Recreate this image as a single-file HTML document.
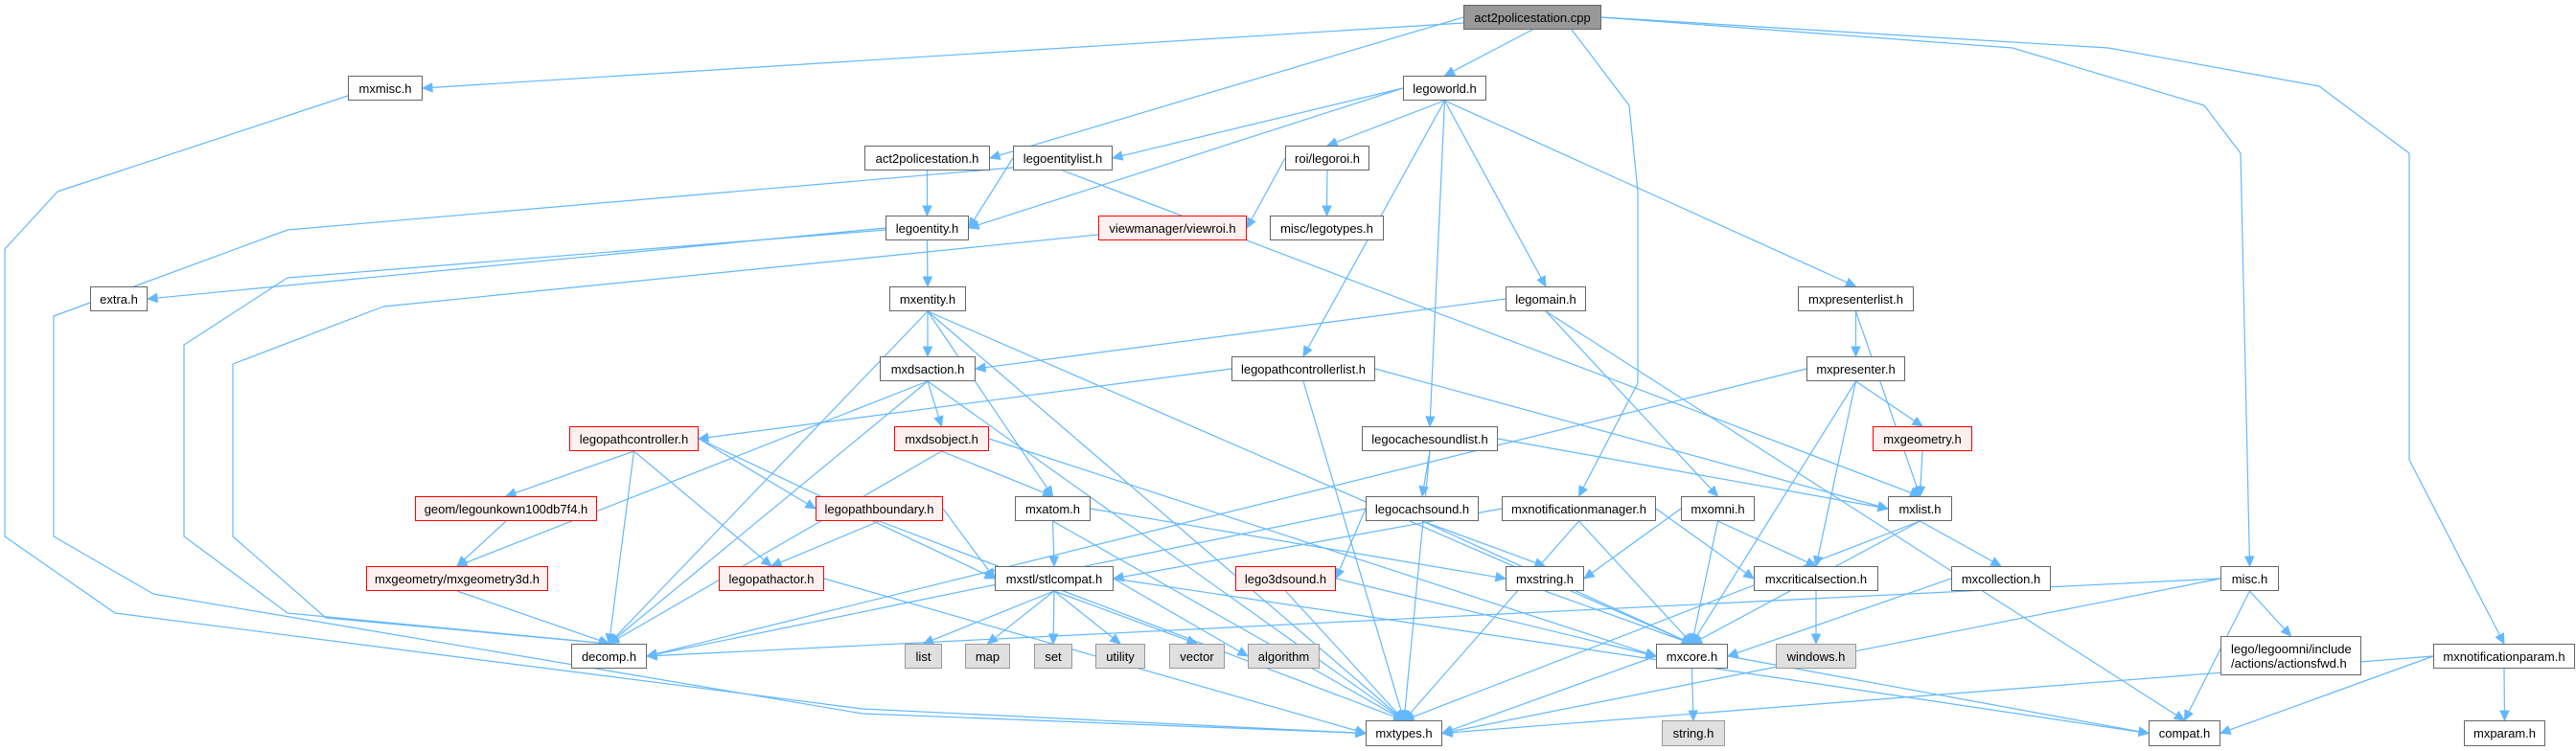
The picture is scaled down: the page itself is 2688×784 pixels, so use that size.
<!DOCTYPE html>
<html><head><meta charset="utf-8">
<style>
html,body{margin:0;padding:0;background:#fff;}
#wrap{position:relative;width:2688px;height:784px;overflow:hidden;}
svg{position:absolute;left:0;top:0;}
.n{position:absolute;box-sizing:border-box;border:1.5px solid #666;background:#fff;font-family:"Liberation Sans",sans-serif;font-size:13px;color:#000;display:flex;align-items:center;justify-content:center;text-align:center;white-space:nowrap;line-height:15px;}
.r{border-color:#f00;background:#fff0f0;}
.g{border-color:#999;background:#e0e0e0;}
.c{background:#999;border-color:#666;}
</style></head><body><div id="wrap">
<svg id="s" width="2688" height="784"></svg>
<div class="n c" style="left:1527px;top:5px;width:144px;height:26px">act2policestation.cpp</div>
<div class="n" style="left:363px;top:79px;width:78px;height:26px">mxmisc.h</div>
<div class="n" style="left:1464px;top:79px;width:87px;height:26px">legoworld.h</div>
<div class="n" style="left:902px;top:152px;width:131px;height:26px">act2policestation.h</div>
<div class="n" style="left:1057px;top:152px;width:104px;height:26px">legoentitylist.h</div>
<div class="n" style="left:1341px;top:152px;width:88px;height:26px">roi/legoroi.h</div>
<div class="n" style="left:924px;top:225px;width:87px;height:26px">legoentity.h</div>
<div class="n r" style="left:1146px;top:225px;width:155px;height:26px">viewmanager/viewroi.h</div>
<div class="n" style="left:1325px;top:225px;width:119px;height:26px">misc/legotypes.h</div>
<div class="n" style="left:94px;top:299px;width:60px;height:26px">extra.h</div>
<div class="n" style="left:928px;top:299px;width:80px;height:26px">mxentity.h</div>
<div class="n" style="left:1571px;top:299px;width:84px;height:26px">legomain.h</div>
<div class="n" style="left:1876px;top:299px;width:121px;height:26px">mxpresenterlist.h</div>
<div class="n" style="left:918px;top:372px;width:100px;height:26px">mxdsaction.h</div>
<div class="n" style="left:1285px;top:372px;width:150px;height:26px">legopathcontrollerlist.h</div>
<div class="n" style="left:1885px;top:372px;width:103px;height:26px">mxpresenter.h</div>
<div class="n r" style="left:594px;top:445px;width:135px;height:26px">legopathcontroller.h</div>
<div class="n r" style="left:933px;top:445px;width:99px;height:26px">mxdsobject.h</div>
<div class="n" style="left:1421px;top:445px;width:142px;height:26px">legocachesoundlist.h</div>
<div class="n r" style="left:1954px;top:445px;width:104px;height:26px">mxgeometry.h</div>
<div class="n r" style="left:433px;top:518px;width:190px;height:26px">geom/legounkown100db7f4.h</div>
<div class="n r" style="left:851px;top:518px;width:133px;height:26px">legopathboundary.h</div>
<div class="n" style="left:1059px;top:518px;width:79px;height:26px">mxatom.h</div>
<div class="n" style="left:1425px;top:518px;width:118px;height:26px">legocachsound.h</div>
<div class="n" style="left:1567px;top:518px;width:161px;height:26px">mxnotificationmanager.h</div>
<div class="n" style="left:1754px;top:518px;width:77px;height:26px">mxomni.h</div>
<div class="n" style="left:1970px;top:518px;width:67px;height:26px">mxlist.h</div>
<div class="n r" style="left:382px;top:591px;width:190px;height:26px">mxgeometry/mxgeometry3d.h</div>
<div class="n r" style="left:750px;top:591px;width:110px;height:26px">legopathactor.h</div>
<div class="n" style="left:1038px;top:591px;width:124px;height:26px">mxstl/stlcompat.h</div>
<div class="n r" style="left:1289px;top:591px;width:105px;height:26px">lego3dsound.h</div>
<div class="n" style="left:1571px;top:591px;width:82px;height:26px">mxstring.h</div>
<div class="n" style="left:1830px;top:591px;width:130px;height:26px">mxcriticalsection.h</div>
<div class="n" style="left:2036px;top:591px;width:104px;height:26px">mxcollection.h</div>
<div class="n" style="left:2317px;top:591px;width:61px;height:26px">misc.h</div>
<div class="n" style="left:596px;top:672px;width:79px;height:26px">decomp.h</div>
<div class="n g" style="left:944px;top:672px;width:39px;height:26px">list</div>
<div class="n g" style="left:1007px;top:672px;width:47px;height:26px">map</div>
<div class="n g" style="left:1079px;top:672px;width:40px;height:26px">set</div>
<div class="n g" style="left:1143px;top:672px;width:52px;height:26px">utility</div>
<div class="n g" style="left:1220px;top:672px;width:58px;height:26px">vector</div>
<div class="n g" style="left:1302px;top:672px;width:75px;height:26px">algorithm</div>
<div class="n" style="left:1728px;top:672px;width:75px;height:26px">mxcore.h</div>
<div class="n g" style="left:1853px;top:672px;width:84px;height:26px">windows.h</div>
<div class="n" style="left:2317px;top:664px;width:147px;height:41px;white-space:normal;text-align:left;justify-content:flex-start;padding-left:10px">lego/legoomni/include<br>/actions/actionsfwd.h</div>
<div class="n" style="left:2539px;top:672px;width:148px;height:26px">mxnotificationparam.h</div>
<div class="n" style="left:1425px;top:752px;width:80px;height:27px">mxtypes.h</div>
<div class="n g" style="left:1734px;top:752px;width:66px;height:27px">string.h</div>
<div class="n" style="left:2242px;top:752px;width:75px;height:27px">compat.h</div>
<div class="n" style="left:2571px;top:752px;width:85px;height:27px">mxparam.h</div>
</div>
<script>
var N={cpp:[1527,1671,5,31],mxmisc:[363,441,79,105],world:[1464,1551,79,105],a2h:[902,1033,152,178],elist:[1057,1161,152,178],roi:[1341,1429,152,178],ent:[924,1011,225,251],vroi:[1146,1301,225,251],ltypes:[1325,1444,225,251],extra:[94,154,299,325],mxent:[928,1008,299,325],main:[1571,1655,299,325],plist:[1876,1997,299,325],dsa:[918,1018,372,398],pcl:[1285,1435,372,398],pres:[1885,1988,372,398],pc:[594,729,445,471],dso:[933,1032,445,471],csl:[1421,1563,445,471],geo:[1954,2058,445,471],unk:[433,623,518,544],pb:[851,984,518,544],atom:[1059,1138,518,544],cs:[1425,1543,518,544],nm:[1567,1728,518,544],omni:[1754,1831,518,544],list:[1970,2037,518,544],g3d:[382,572,591,617],pa:[750,860,591,617],stl:[1038,1162,591,617],l3d:[1289,1394,591,617],str:[1571,1653,591,617],crit:[1830,1960,591,617],coll:[2036,2140,591,617],misc:[2317,2378,591,617],dec:[596,675,672,698],li:[944,983,672,698],map:[1007,1054,672,698],set:[1079,1119,672,698],util:[1143,1195,672,698],vec:[1220,1278,672,698],alg:[1302,1377,672,698],core:[1728,1803,672,698],win:[1853,1937,672,698],afwd:[2317,2464,664,705],np:[2539,2687,672,698],types:[1425,1505,752,779],strh:[1734,1800,752,779],compat:[2242,2317,752,779],param:[2571,2656,752,779]};
var E="cpp mxmisc,cpp a2h,cpp world,cpp nm,cpp misc,cpp np,world elist,world ent,world roi,world pcl,world csl,world main,world plist,elist ent,elist types,elist list,a2h ent,ent extra,ent mxent,ent dec,roi vroi,roi ltypes,vroi dec,mxmisc types,mxent dsa,mxent atom,mxent core,mxent types,mxent dec,dsa dso,dsa g3d,dsa types,dsa dec,pcl pc,pcl types,pcl list,main dsa,main omni,main compat,plist pres,plist list,pres dec,pres geo,pres crit,pres core,pc unk,pc dec,pc pa,pc pb,pc stl,dso dec,dso atom,dso core,csl cs,csl types,csl list,geo list,unk g3d,pb pa,pb stl,pb types,atom stl,atom types,atom str,cs dec,cs l3d,cs str,cs core,nm stl,nm types,nm core,nm crit,omni str,omni crit,omni core,list coll,list core,list types,g3d dec,pa types,stl li,stl map,stl set,stl util,stl vec,stl alg,stl compat,l3d types,l3d core,str core,crit win,coll core,misc dec,misc afwd,misc compat,misc types,core types,core strh,core compat,np types,np compat,np param".split(",");
var W={"mxmisc types":[[363,100],[60,200],[5,260],[5,560],[120,640],[900,740]],
"elist types":[[1057,175],[300,240],[56,330],[56,560],[160,620],[900,745]],
"ent dec":[[924,240],[300,290],[192,360],[192,560],[300,640]],
"vroi dec":[[1146,245],[400,320],[243,380],[243,560],[340,645]],
"cpp misc":[[1671,18],[2100,50],[2300,110],[2338,160]],
"cpp np":[[1671,18],[2200,50],[2420,90],[2514,160],[2514,480]],
"cpp nm":[[1640,31],[1700,110],[1709,200],[1709,400]],
"cpp mxmisc":[[1527,24]]};
var s=document.getElementById("s"),h="";
E.forEach(function(e){var p=e.split(" "),a=N[p[0]],b=N[p[1]];
var sx=(a[0]+a[1])/2,sy=a[3],tx=(b[0]+b[1])/2,ty=b[2];
var dx=tx-sx,pts;
var w=W[e];
if(w){pts=w.slice();var l=pts[pts.length-1];
 if(l[1]>b[2]-20&&l[0]<b[0]){tx=b[0];ty=(b[2]+b[3])/2;}
 else if(l[0]>b[1]&&Math.abs(l[1]-b[2])<40){tx=b[1];ty=(b[2]+b[3])/2;}
 if(e=="cpp mxmisc"){tx=b[1];ty=(b[2]+b[3])/2;}
}else{
 if(Math.abs(dx)>3*(ty-sy)){ty=(b[2]+b[3])/2;tx=dx>0?b[0]:b[1];sy=(a[2]+a[3])/2;sx=dx>0?a[1]:a[0];}
 pts=[[sx,sy]];
}
var l=pts[pts.length-1];
var ang=Math.atan2(ty-l[1],tx-l[0]);
var L=10,Wd=4.5;
var ex=tx-L*Math.cos(ang),ey=ty-L*Math.sin(ang);
var d="M"+pts[0][0]+","+pts[0][1];
for(var i=1;i<pts.length;i++)d+=" L"+pts[i][0]+","+pts[i][1];
d+=" L"+ex+","+ey;
h+='<path d="'+d+'" fill="none" stroke="#63b8ff" stroke-width="1.2" stroke-linejoin="round"/>';
var px=-Math.sin(ang)*Wd,py=Math.cos(ang)*Wd;
h+='<polygon points="'+tx+','+ty+' '+(ex+px)+','+(ey+py)+' '+(ex-px)+','+(ey-py)+'" fill="#63b8ff" stroke="#63b8ff"/>';
});
s.innerHTML=h;
</script>
</body></html>
